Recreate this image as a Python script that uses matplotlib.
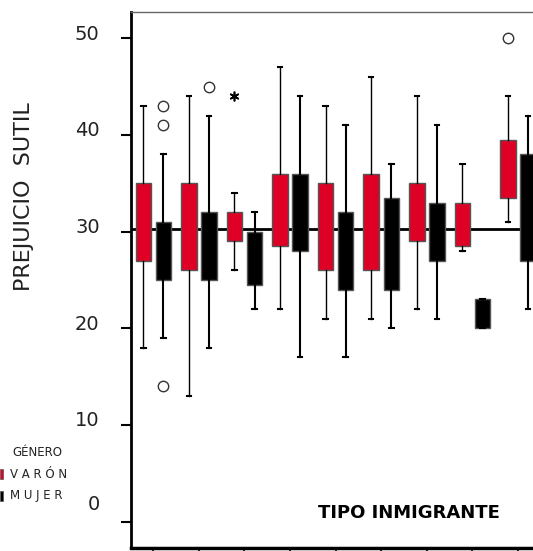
import matplotlib
matplotlib.use('Agg')
import matplotlib.pyplot as plt
import matplotlib.transforms as mtransforms
from matplotlib.patches import Rectangle

# groups of TIPO INMIGRANTE (9 categories, unlabeled)
groups = [1, 2, 3, 4, 5, 6, 7, 8, 9]

# VARÓN (red boxes)
varon_whislo = [18, 13, 26, 22, 21, 21, 22, 28, 31]
varon_q1 = [27, 26, 29, 28.5, 26, 26, 29, 28.5, 33.5]
varon_q3 = [35, 35, 32, 36, 35, 36, 35, 33, 39.5]
varon_whishi = [43, 44, 34, 47, 43, 46, 44, 37, 44]

# MUJER (black boxes)
mujer_whislo = [19, 18, 22, 17, 17, 20, 21, 20, 22]
mujer_q1 = [25, 25, 24.5, 28, 24, 24, 27, 20, 27]
mujer_q3 = [31, 32, 30, 36, 32, 33.5, 33, 23, 38]
mujer_whishi = [38, 42, 32, 44, 41, 37, 41, 23, 42]

# outliers (circles) and extremes (asterisk)
varon_out_group = [9]
varon_out_val = [50]
mujer_out_group = [1, 1, 1, 2]
mujer_out_val = [43, 41, 14, 45]
varon_ext_group = [3]
varon_ext_val = [44]

ref_line = 30.3
yticks = [0, 10, 20, 30, 40, 50]

RED = '#DE0025'
OFFSET = 0.22
WIDTH = 0.34


def make_stats(lo, q1, q3, hi):
    return [{'whislo': a, 'q1': b, 'med': b, 'q3': c, 'whishi': d}
            for a, b, c, d in zip(lo, q1, q3, hi)]


fig = plt.figure(figsize=(5.33, 5.51), dpi=100)
ax = fig.add_axes([130.5 / 533, 3 / 551, 410.3 / 533, 536 / 551])

ax.axhline(ref_line, color='black', lw=2, zorder=3)

for stats, pos_off, color, wlw in [
        (make_stats(varon_whislo, varon_q1, varon_q3, varon_whishi),
         -OFFSET, RED, 1.0),
        (make_stats(mujer_whislo, mujer_q1, mujer_q3, mujer_whishi),
         OFFSET, 'black', 1.5)]:
    ax.bxp(stats, positions=[g + pos_off for g in groups], widths=WIDTH,
           patch_artist=True, showfliers=False, capwidths=0.1,
           manage_ticks=False, zorder=4,
           boxprops={'facecolor': color, 'edgecolor': '#555555',
                     'linewidth': 1.0},
           whiskerprops={'color': 'black', 'linewidth': wlw},
           capprops={'color': 'black', 'linewidth': 1.5},
           medianprops={'visible': False})

ax.plot([g - OFFSET for g in varon_out_group], varon_out_val, 'o',
        ms=7.5, mfc='white', mec='#333333', mew=1.0, zorder=5)
ax.plot([g + OFFSET for g in mujer_out_group], mujer_out_val, 'o',
        ms=7.5, mfc='white', mec='#333333', mew=1.0, zorder=5)
ax.plot([g - OFFSET for g in varon_ext_group], varon_ext_val,
        marker=(6, 2, 0), ls='none', ms=7, mec='black', mew=1.2, zorder=5)

ax.set_xlim(0.5, 9.5)
ax.set_ylim(-2.74, 52.74)
ax.set_xticks([g for g in groups])
ax.set_xticklabels([])
ax.set_yticks(yticks)
ax.set_yticklabels([str(t) for t in yticks], fontsize=14, color='#222222')
ax.tick_params(axis='y', length=7.2, width=1.5, pad=15, direction='out')
ax.tick_params(axis='x', length=5, width=1.2, direction='out')

# tick labels sit a little above the ticks, the zero one much more
for lab, t in zip(ax.get_yticklabels(), yticks):
    dy = 14 if t == 0 else 4.5
    lab.set_transform(lab.get_transform()
                      + mtransforms.ScaledTranslation(0, dy / 72,
                                                      fig.dpi_scale_trans))

ax.spines['left'].set_linewidth(2)
ax.spines['bottom'].set_linewidth(2.5)
ax.spines['top'].set_linewidth(1)
ax.spines['top'].set_color('#666666')
ax.spines['right'].set_visible(False)

ax.text(409 / 533, 38 / 551, 'TIPO INMIGRANTE', transform=fig.transFigure,
        ha='center', va='center', fontsize=13, fontweight='bold')

fig.text(24 / 533, 1 - 197 / 551, 'PREJUICIO  SUTIL', rotation=90,
         ha='center', va='center', fontsize=16, color='#222222')

# legend
fig.text(12 / 533, 1 - 453 / 551, 'GÉNERO', fontsize=8.5, va='center',
         color='#222222')
fig.text(10 / 533, 1 - 474 / 551, 'V A R Ó N', fontsize=8.5, va='center',
         color='#222222')
fig.text(10 / 533, 1 - 496 / 551, 'M U J E R', fontsize=8.5, va='center',
         color='#222222')
for yc, col in [(474, RED), (496, 'black')]:
    fig.patches.append(Rectangle((0, 1 - (yc + 5) / 551), 3 / 533, 10 / 551,
                                 transform=fig.transFigure, facecolor=col,
                                 edgecolor='#555555', lw=0.5))

fig.savefig('out.png', dpi=100)
